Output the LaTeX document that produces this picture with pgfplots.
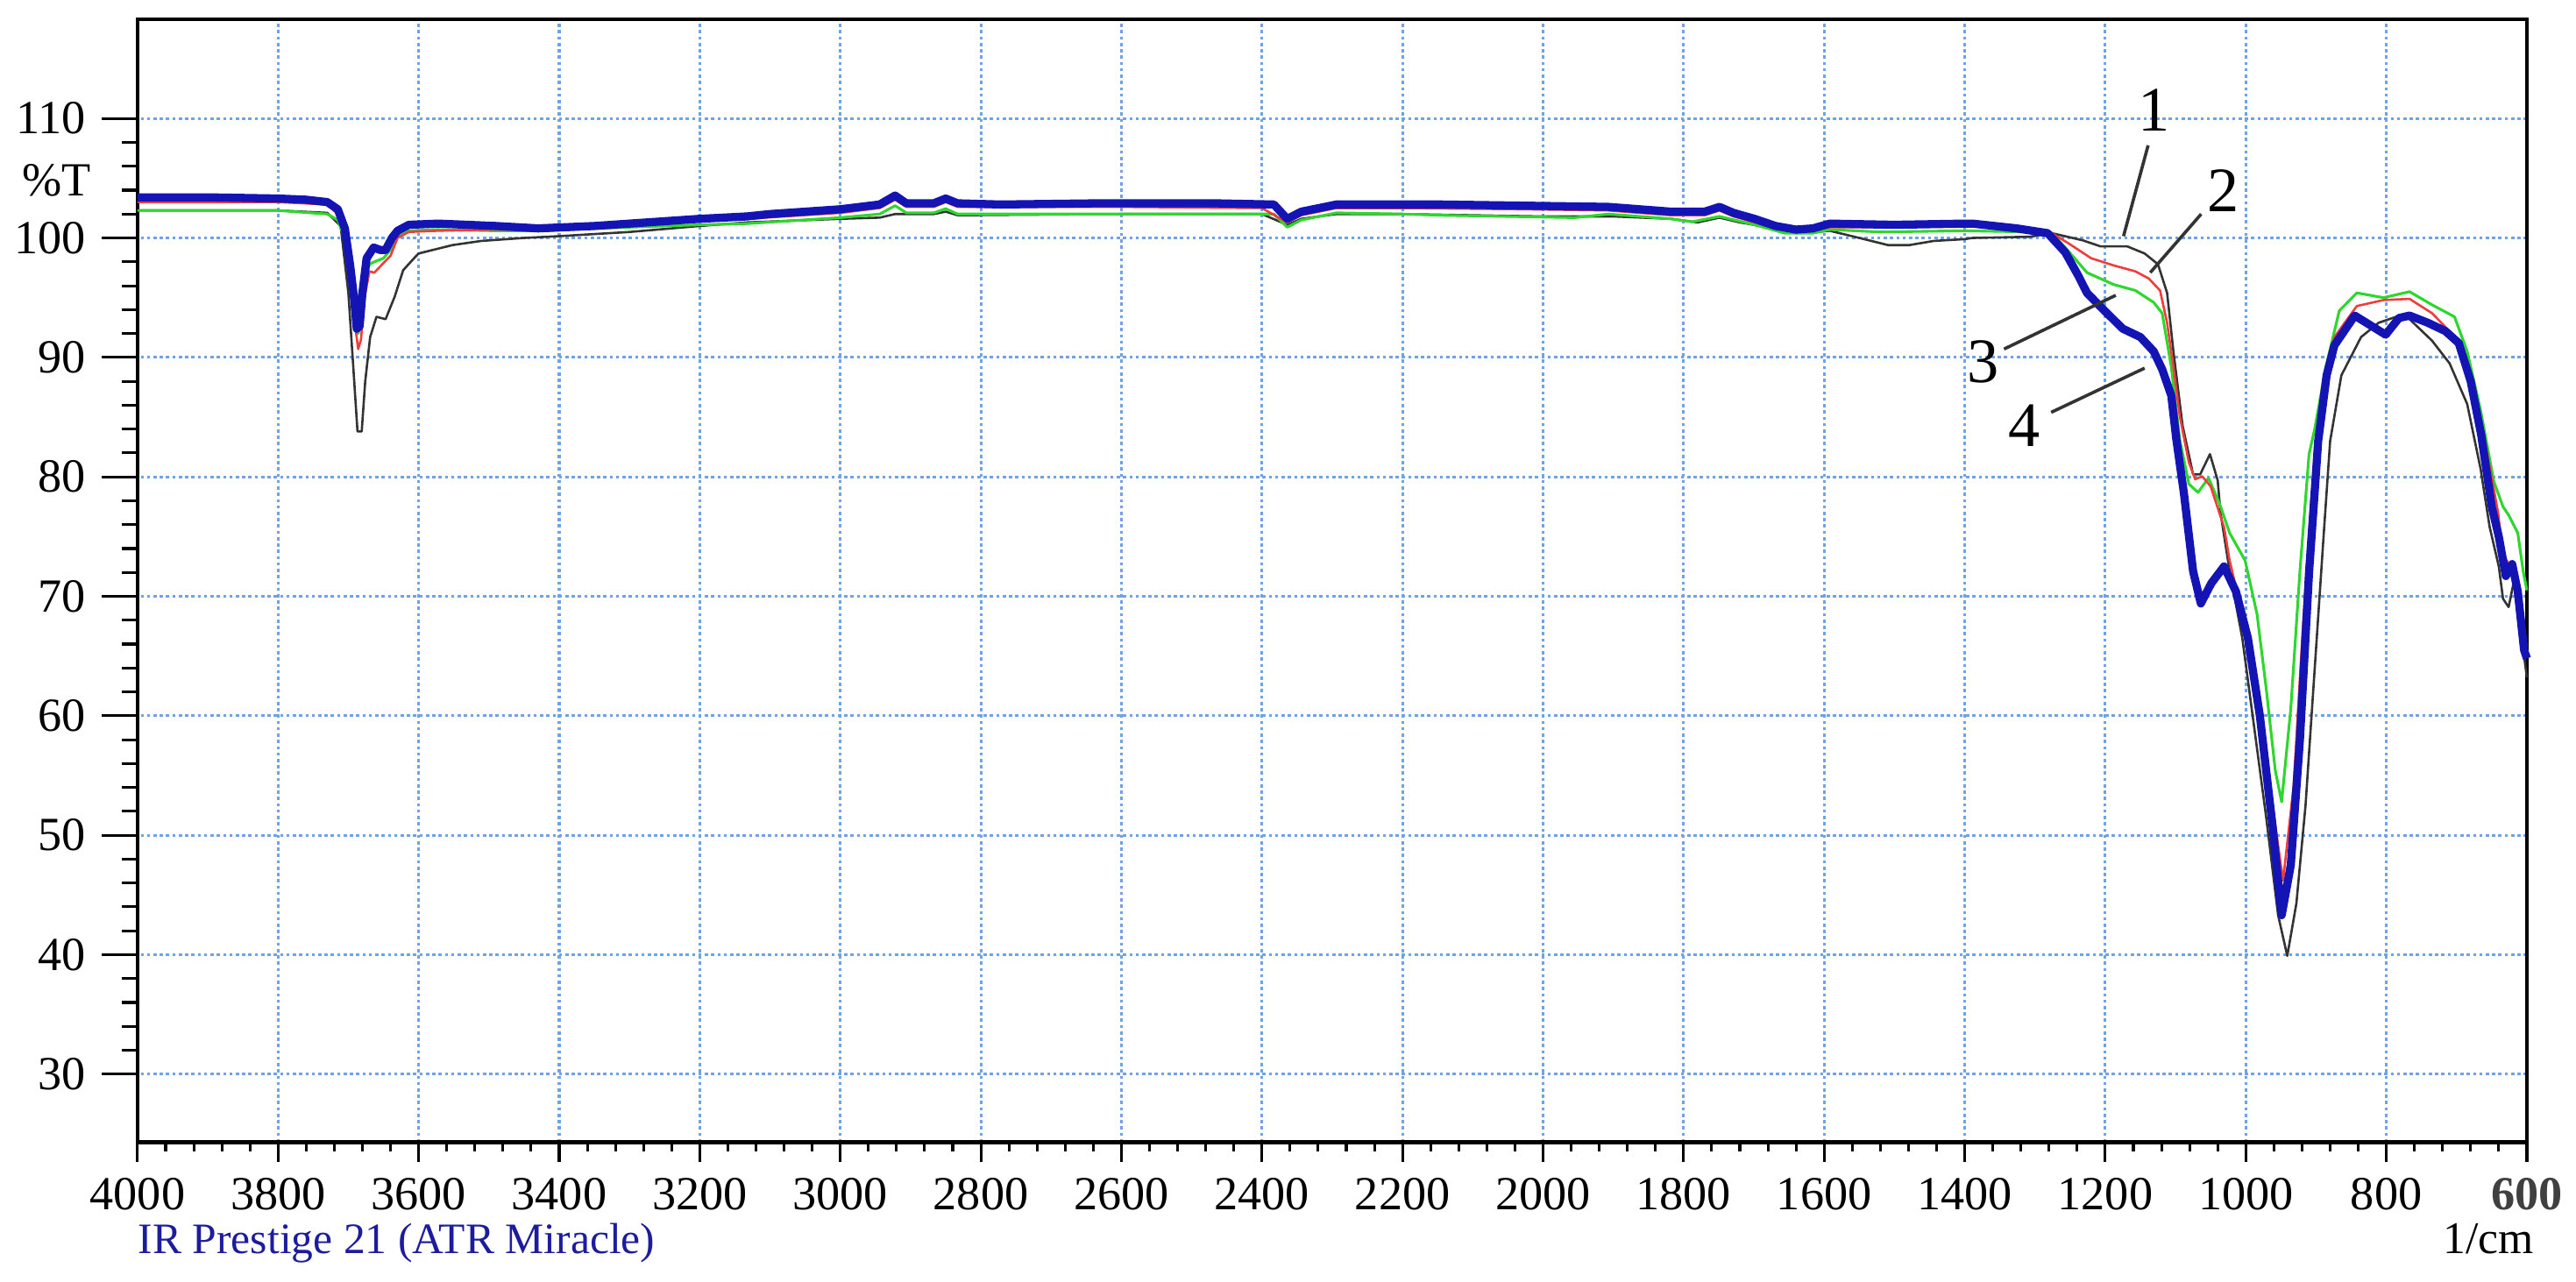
\documentclass[border=0pt]{standalone}
\usepackage{fontspec}
\setmainfont{Liberation Serif}
\usepackage{pgfplots}
\pgfplotsset{compat=1.18}
\definecolor{gridblue}{HTML}{6FA3E6}
\definecolor{specblack}{HTML}{333333}
\definecolor{specred}{HTML}{F03C3C}
\definecolor{specgreen}{HTML}{2ED62E}
\definecolor{specblue}{HTML}{1414B4}
\definecolor{navytext}{HTML}{1C1C9C}

\pgfplotsset{
  irframe/.style={
    at={(0,0)}, anchor=south west,
    scale only axis, width=18.55cm, height=8.72cm,
    x dir=reverse, xmin=600, xmax=4000, ymin=24.3, ymax=118.3,
    tick pos=left, tick align=outside,
    tick style={black, line width=0.6pt},
    ticklabel style={font=\fontsize{10.5}{12}\selectfont},
    /pgf/number format/assume math mode=true,
  },
}

\begin{document}
\begin{tikzpicture}
% frame, grid, y ticks and the spectra
\begin{axis}[
  irframe,
  xtick={600,800,...,4000}, xticklabels={},
  xmajorticks=false, xminorticks=false,
  ytick={30,40,...,110}, minor y tick num=4,
  major tick length=0.28cm, minor tick length=0.125cm,
  grid=major,
  major grid style={gridblue, line width=0.6pt, dash pattern=on 0.7pt off 0.7pt},
  axis line style={black, line width=0.8pt},
  clip=false,
]
% 1
\addplot[specblack, line width=0.5pt, line join=round] coordinates {
(4000,102.3) (3800,102.3) (3730,102.1) (3711,101.0) (3700,95.4) (3693,89.2)
(3687,83.8) (3681,83.8) (3676,88.0) (3669,91.7) (3660,93.4) (3647,93.2)
(3634,95.1) (3622,97.3) (3605,98.4) (3600,98.7) (3552,99.4) (3511,99.75)
(3450,100.0) (3400,100.15) (3300,100.5) (3200,101.0) (3133,101.3) (3000,101.6)
(2944,101.7) (2922,102.0) (2867,102.0) (2850,102.2) (2833,101.9) (2600,102.0)
(2400,102.0) (2364,101.1) (2344,101.6) (2294,102.0) (2200,102.0) (2000,101.8)
(1900,101.8) (1818,101.6) (1780,101.3) (1749,101.7) (1720,101.3) (1669,100.8)
(1640,100.4) (1610,100.5) (1592,100.6) (1550,100.0) (1509,99.4) (1479,99.4)
(1444,99.75) (1400,99.9) (1389,100.0) (1307,100.1) (1276,100.4) (1232,99.8)
(1207,99.3) (1169,99.3) (1144,98.7) (1125,97.8) (1112,95.4) (1103,90.5)
(1090,84.3) (1075,80.2) (1065,80.2) (1051,81.9) (1040,79.7) (1036,77.0)
(1023,72.1) (1005,66.5) (988,59.0) (971,51.5) (954,43.3) (941,39.9)
(928,44.3) (915,52.5) (902,63.9) (889,75.3) (880,83.0) (864,88.5)
(836,91.7) (811,92.9) (786,93.4) (767,93.2) (735,91.4) (710,89.5)
(685,86.1) (666,80.7) (653,75.8) (640,72.5) (634,69.8) (626,69.1)
(617,71.7) (609,67.2) (600,63.2)
};
% 3
\addplot[specgreen, line width=0.6pt, line join=round] coordinates {
(4000,102.3) (3800,102.3) (3730,102.0) (3715,101.5) (3705,100.0) (3697,97.0)
(3690,93.5) (3686,92.0) (3682,93.0) (3677,96.0) (3670,97.8) (3663,98.0)
(3650,98.3) (3640,99.0) (3630,100.1) (3614,100.6) (3573,100.7) (3490,100.6)
(3430,100.6) (3350,100.8) (3200,101.1) (3133,101.2) (3000,101.7) (2944,102.0)
(2922,102.7) (2906,102.1) (2867,102.1) (2850,102.45) (2833,102.0) (2600,102.0)
(2383,102.0) (2364,100.9) (2344,101.5) (2294,102.1) (2200,102.0) (2145,101.9)
(1955,101.7) (1907,102.0) (1818,101.6) (1788,101.35) (1749,101.8) (1699,101.1)
(1656,100.4) (1616,100.4) (1592,100.7) (1520,100.5) (1400,100.6) (1307,100.5)
(1276,100.4) (1251,98.8) (1226,97.1) (1188,96.1) (1157,95.6) (1131,94.6)
(1119,93.7) (1106,89.2) (1094,83.1) (1081,79.4) (1068,78.7) (1053,79.9)
(1037,77.7) (1023,75.3) (1001,73.0) (984,68.5) (971,62.3) (958,55.4)
(949,52.8) (936,60.6) (923,72.1) (910,81.9) (902,84.0) (886,89.2)
(867,93.9) (842,95.4) (804,95.0) (767,95.5) (735,94.4) (703,93.4)
(685,90.5) (666,85.6) (647,79.6) (634,77.5) (626,76.8) (613,75.3)
(605,72.0) (600,70.5)
};
% 2
\addplot[specred, line width=0.5pt, line join=round] coordinates {
(4000,103.0) (3800,103.0) (3730,102.8) (3715,102.0) (3705,100.3) (3697,97.0)
(3690,92.5) (3686,90.7) (3682,91.5) (3677,95.0) (3670,97.2) (3663,97.1)
(3650,97.9) (3640,98.5) (3630,100.0) (3614,100.5) (3573,100.6) (3490,100.7)
(3430,100.7) (3350,100.9) (3200,101.4) (3133,101.6) (3000,102.1) (2944,102.5)
(2922,103.2) (2906,102.6) (2867,102.6) (2850,103.0) (2833,102.6) (2600,102.6)
(2400,102.5) (2364,101.3) (2344,101.9) (2294,102.5) (2200,102.5) (2026,102.4)
(1907,102.3) (1818,101.9) (1770,101.9) (1749,102.3) (1729,101.8) (1699,101.3)
(1669,100.8) (1640,100.5) (1616,100.6) (1592,100.9) (1500,100.9) (1400,101.0)
(1307,100.7) (1276,100.4) (1251,99.5) (1220,98.3) (1188,97.7) (1157,97.2)
(1138,96.6) (1122,95.6) (1112,92.9) (1103,89.2) (1094,85.1) (1081,81.2)
(1072,79.8) (1062,80.05) (1050,79.2) (1031,75.8) (1023,73.0) (997,66.5)
(980,60.0) (962,52.5) (947,46.2) (932,54.1) (919,67.2) (906,78.6)
(892,86.8) (874,91.7) (842,94.3) (804,94.8) (767,94.9) (735,93.7)
(697,91.4) (678,88.0) (660,83.1) (641,77.0) (634,73.4) (621,72.4)
(609,68.5) (600,65.8)
};
% 4
\addplot[specblue, line width=1.8pt, line join=round] coordinates {
(4000,103.4) (3900,103.4) (3800,103.3) (3760,103.2) (3730,103.0) (3715,102.4)
(3705,100.8) (3697,97.5) (3692,95.0) (3688,92.4) (3684,92.6) (3680,95.4)
(3674,98.3) (3664,99.2) (3655,99.0) (3647,99.0) (3638,100.0) (3630,100.6)
(3614,101.1) (3572,101.2) (3490,101.0) (3430,100.8) (3350,101.0) (3200,101.6)
(3133,101.8) (3100,102.0) (3000,102.4) (2944,102.8) (2922,103.55) (2906,102.9)
(2867,102.9) (2850,103.3) (2833,102.9) (2772,102.8) (2633,102.9) (2467,102.9)
(2383,102.8) (2364,101.6) (2344,102.2) (2294,102.8) (2262,102.8) (2200,102.8)
(2145,102.8) (2026,102.7) (1907,102.6) (1818,102.2) (1770,102.2) (1749,102.6)
(1729,102.1) (1699,101.6) (1669,101.0) (1640,100.7) (1616,100.8) (1592,101.2)
(1500,101.1) (1400,101.2) (1389,101.2) (1326,100.8) (1282,100.4) (1257,98.8)
(1238,96.8) (1226,95.4) (1201,93.9) (1175,92.4) (1150,91.7) (1131,90.5)
(1119,89.0) (1106,86.8) (1099,83.2) (1088,78.6) (1075,72.1) (1064,69.4)
(1049,71.1) (1031,72.5) (1014,70.4) (997,66.5) (980,60.0) (962,50.8)
(949,43.3) (936,47.5) (923,58.0) (910,72.0) (897,83.0) (885,88.5)
(874,91.0) (845,93.5) (823,92.7) (801,91.9) (782,93.3) (767,93.5)
(741,92.9) (716,92.2) (697,91.2) (680,88.0) (665,83.5) (650,77.5)
(640,75.0) (630,71.7) (621,72.7) (613,70.4) (604,65.5) (600,64.8)
};
% curve numbers
\node[font=\fontsize{14}{16}\selectfont] at (axis cs:1131,110.7) {1};
\node[font=\fontsize{14}{16}\selectfont] at (axis cs:1032,103.95) {2};
\node[font=\fontsize{14}{16}\selectfont] at (axis cs:1374,89.6) {3};
\node[font=\fontsize{14}{16}\selectfont] at (axis cs:1315,84.3) {4};
\draw[specblack, line width=0.7pt] (axis cs:1139,107.75) -- (axis cs:1174,100.15);
\draw[specblack, line width=0.7pt] (axis cs:1063.5,102.0) -- (axis cs:1136,97.1);
\draw[specblack, line width=0.7pt] (axis cs:1344,90.7) -- (axis cs:1185,95.2);
\draw[specblack, line width=0.7pt] (axis cs:1277,85.4) -- (axis cs:1144,89.1);
% labels round the frame
\node[anchor=east, inner sep=0pt, font=\fontsize{10.5}{12}\selectfont, xshift=-0.355cm]
  at (axis cs:4000,104.8) {\%T};
\node[anchor=base west, inner sep=0pt, text=navytext, font=\fontsize{9.6}{11}\selectfont, yshift=-0.865cm]
  at (rel axis cs:0,0) {IR Prestige 21 (ATR Miracle)};
\node[anchor=base east, inner sep=0pt, font=\fontsize{10}{12}\selectfont, yshift=-0.865cm, xshift=0.06cm]
  at (rel axis cs:1,0) {1/cm};
\end{axis}
% x ticks (shorter than the y ticks) and their labels
\begin{axis}[
  irframe,
  axis line style={draw=none},
  ytick=\empty,
  xtick={600,800,...,4000}, minor x tick num=4,
  major tick length=0.155cm, minor tick length=0.07cm,
  xticklabels={{\textbf{\color{darkgray}600}},800,1000,1200,1400,1600,1800,2000,2200,2400,2600,2800,3000,3200,3400,3600,3800,4000},
]
\end{axis}
\pgfresetboundingbox
\path[use as bounding box] (-1.068,-1.082) rectangle (18.931,8.87);
\end{tikzpicture}
\end{document}
